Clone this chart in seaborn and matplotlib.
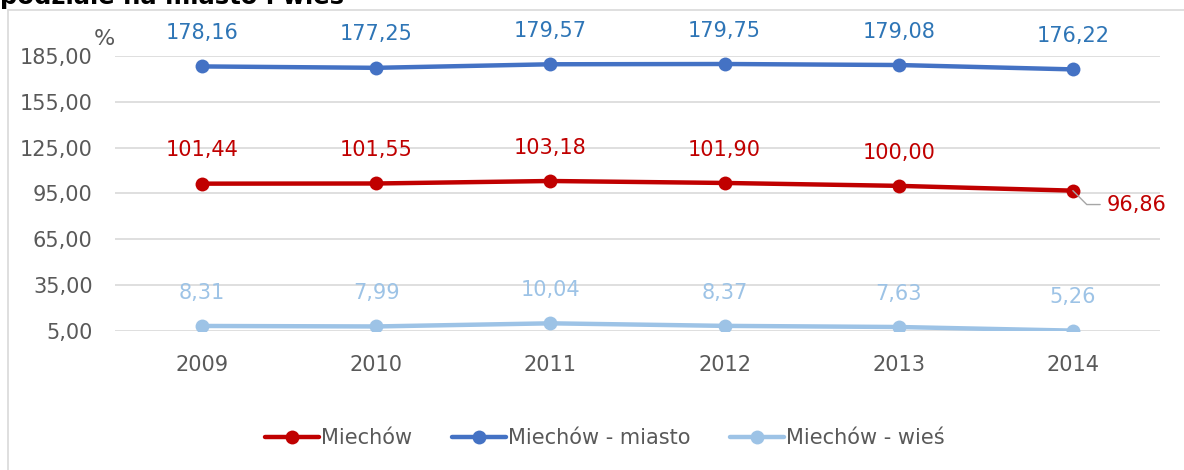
import pandas as pd
import seaborn as sns
from matplotlib import pyplot as plt
from matplotlib.lines import Line2D

lata = ['2009', '2010', '2011', '2012', '2013', '2014']
miechow = [101.44, 101.55, 103.18, 101.90, 100.00, 96.86]
miasto = [178.16, 177.25, 179.57, 179.75, 179.08, 176.22]
wies = [8.31, 7.99, 10.04, 8.37, 7.63, 5.26]
serie = ['Miechów', 'Miechów - miasto', 'Miechów - wieś']
kolory = ['#C00000', '#4472C4', '#9DC3E6']
kolory_etykiet = ['#C00000', '#2E75B6', '#9DC3E6']
yticks = [5, 35, 65, 95, 125, 155, 185]

df = pd.DataFrame({
    'rok': lata * 3,
    'wartosc': miechow + miasto + wies,
    'seria': [serie[0]] * 6 + [serie[1]] * 6 + [serie[2]] * 6,
})

sns.set_theme(style='white')
plt.rcParams['font.family'] = ['DejaVu Sans']

fig = plt.figure(figsize=(11.84, 4.70), dpi=100)
ax = fig.add_axes([0.0971, 0.2957, 0.8826, 0.5852])

sns.lineplot(data=df, x='rok', y='wartosc', hue='seria', palette=kolory,
             hue_order=serie, marker='o', markersize=10, markeredgewidth=0,
             linewidth=3.2, ax=ax, legend=False, sort=False)

ax.set_xlim(-0.5, 5.5)
ax.set_ylim(5, 185)
ax.set_yticks(yticks)
ax.set_yticklabels([f'{v:.2f}'.replace('.', ',') for v in yticks])
ax.yaxis.grid(True, color='#D9D9D9', linewidth=1.2)
ax.set_axisbelow(True)
for s in ax.spines.values():
    s.set_visible(False)
ax.tick_params(axis='both', length=0, labelsize=15, labelcolor='#595959')
ax.tick_params(axis='y', pad=16)
ax.tick_params(axis='x', pad=17)
ax.set_xlabel('')
ax.set_ylabel('')

# etykiety danych
for vals, kol in zip([miechow, miasto, wies], kolory_etykiet):
    for i, v in enumerate(vals):
        tekst = f'{v:.2f}'.replace('.', ',')
        if vals is miechow and i == 5:
            ax.annotate(tekst, xy=(i, v), xytext=(24, -10), textcoords='offset points',
                        color=kol, fontsize=15, ha='left', va='center',
                        arrowprops=dict(arrowstyle='-', color='#A6A6A6', lw=1,
                                        connectionstyle='angle,angleA=0,angleB=-45,rad=0',
                                        shrinkA=2, shrinkB=0))
        else:
            ax.annotate(tekst, xy=(i, v), xytext=(0, 24), textcoords='offset points',
                        color=kol, fontsize=15, ha='center', va='center')

fig.text(0.0795, 0.904, '%', fontsize=16, color='#595959', ha='left', va='baseline')

# legenda
uchwyty = [Line2D([0], [0], color=k, lw=3.2, marker='o', markersize=10, markeredgewidth=0)
           for k in kolory]
leg = fig.legend(uchwyty, serie, loc='center', bbox_to_anchor=(0.511, 0.068), ncol=3,
                 frameon=False, fontsize=15, handlelength=2.6, handletextpad=0.1,
                 columnspacing=1.9)
for t in leg.get_texts():
    t.set_color('#595959')

# ramka wykresu i ucięty tytuł
fig.add_artist(Line2D([0.0068, 1.0], [0.9787, 0.9787], color='#D9D9D9', lw=1.2,
                      transform=fig.transFigure))
fig.add_artist(Line2D([0.0068, 0.0068], [0.0, 0.9787], color='#D9D9D9', lw=1.2,
                      transform=fig.transFigure))
fig.text(0.0, 1 - 4 / 470, 'podziale na miasto i wieś', fontsize=17.5, fontweight='bold',
         color='black', ha='left', va='baseline')

fig.savefig('out.png', dpi=100)
